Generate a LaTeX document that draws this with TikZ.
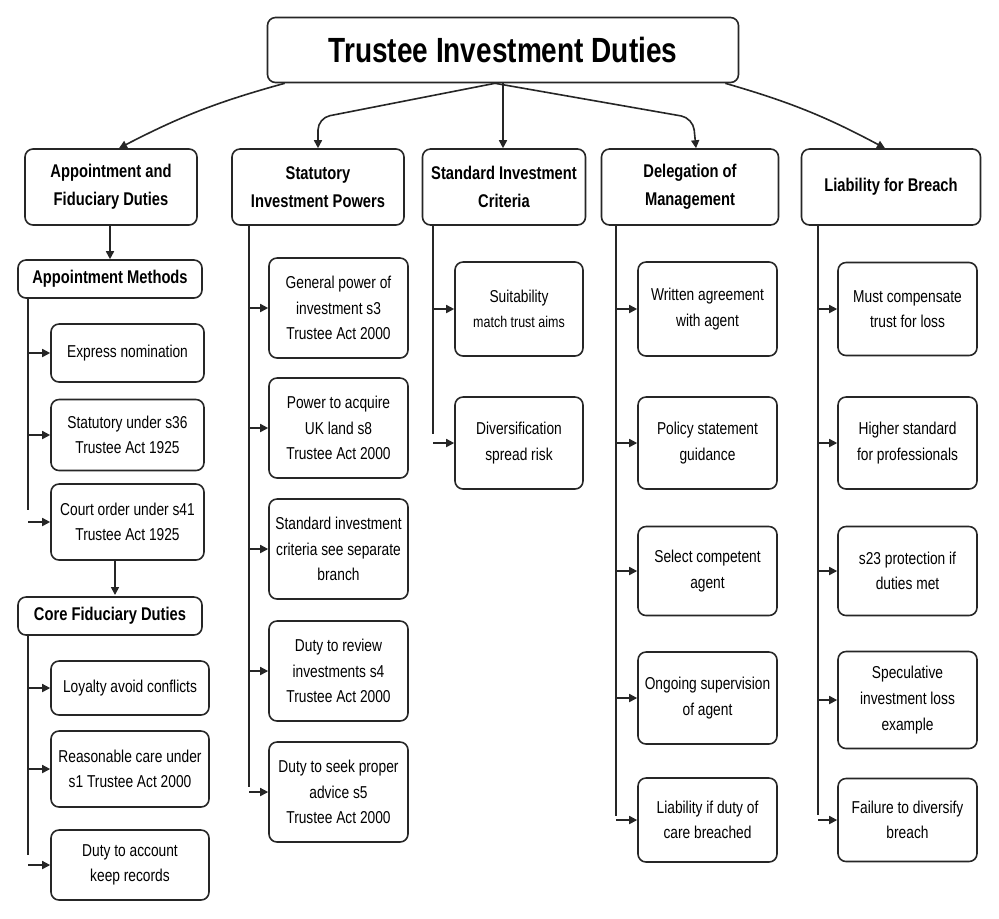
\documentclass[tikz,border=0pt]{standalone}
\usepackage{fontspec}
\setmainfont{Liberation Sans}[FakeStretch=0.8]
\usetikzlibrary{positioning,calc,arrows.meta}

\tikzset{
  box/.style={draw=black!85, line width=0.8pt, rounded corners=4pt, fill=white,
    align=center, inner sep=1pt, font=\fontsize{8.6}{12.8}\selectfont},
  head/.style={box, font=\fontsize{9.2}{14}\selectfont\bfseries},
  arr/.style={line width=0.8pt, draw=black!85, -{Triangle[length=4pt,width=4pt]}},
  spine/.style={line width=0.8pt, draw=black!85},
}

\begin{document}
\begin{tikzpicture}[x=0.5pt,y=-0.5pt]
    \useasboundingbox (0,0) rectangle (999,918);

    % title
    \node[box, minimum width=235.5pt, minimum height=32.5pt, font=\fontsize{17.5}{20}\selectfont\bfseries] (title) at (503,50) {Trustee Investment Duties};

    % column headers
    \node[head, minimum width=86pt, minimum height=38pt] (appt) at (111,187) {Appointment and\\Fiduciary Duties};
    \node[head, minimum width=86pt, minimum height=38pt] (stat) at (318,187) {Statutory\\Investment Powers};
    \node[head, minimum width=81.5pt, minimum height=38pt] (crit) at (504,187) {Standard Investment\\Criteria};
    \node[head, minimum width=88.5pt, minimum height=38pt] (dele) at (690,187) {Delegation of\\Management};
    \node[head, minimum width=89.5pt, minimum height=38pt] (liab) at (891,187) {Liability for Breach};

    \draw[arr] (title.south west)++(18,0) to[bend right=6] ([xshift=4]appt.north);
    \draw[arr, rounded corners=6pt] ($(title.south)+(-8,0)$) -- (318,118) -- (stat.north);
    \draw[arr] (title.south) -- (title.south |- crit.north);
    \draw[arr, rounded corners=6pt] ($(title.south)+(-8,0)$) -- (693,118) -- ([xshift=3]dele.north);
    \draw[arr] (title.south east)++(-14,0) to[bend left=6] ([xshift=-3]liab.north);

    % appointment and fiduciary duties
    \node[head, minimum width=92pt, minimum height=19pt] (meth) at (110,279) {Appointment Methods};
    \draw[arr] (appt.south -| meth.north) -- (meth.north);
    \foreach \name/\y/\h/\txt in {expr/353/29/Express nomination, s36/435/35.5/Statutory under s36\\Trustee Act 1925, s41/522/38/Court order under s41\\Trustee Act 1925}
      \node[box, minimum width=76.5pt, minimum height=\h pt] (\name) at (127.5,\y) {\txt};
    \coordinate (meth spine) at (28,298);
    \draw[spine] (meth spine) -- (28,510);
    \foreach \name in {expr,s36,s41}
      \draw[arr] (meth spine |- \name.west) -- (\name.west);

    \node[head, minimum width=92pt, minimum height=19pt] (core) at (110,616) {Core Fiduciary Duties};
    \draw[arr] (115,560) -- (115,595);
    \foreach \name/\y/\h/\txt in {loya/688/27/Loyalty avoid conflicts, care/769/38/Reasonable care under\\s1 Trustee Act 2000, acct/865/35/Duty to account\\keep records}
      \node[box, minimum width=79pt, minimum height=\h pt] (\name) at (130,\y) {\txt};
    \coordinate (core spine) at (28,635);
    \draw[spine] (core spine) -- (28,855);
    \foreach \name in {loya,care,acct}
      \draw[arr] (core spine |- \name.west) -- (\name.west);

    % statutory investment powers
    \foreach \name/\y/\txt in {gen/308/General power of\\investment s3\\Trustee Act 2000, land/428/Power to acquire\\UK land s8\\Trustee Act 2000, sic/549/Standard investment\\criteria see separate\\branch, rev/671/Duty to review\\investments s4\\Trustee Act 2000, adv/792/Duty to seek proper\\advice s5\\Trustee Act 2000}
      \node[box, minimum width=69.5pt, minimum height=50pt] (\name) at (338.5,\y) {\txt};
    \coordinate (stat spine) at (249,225);
    \draw[spine] (stat spine) -- (249,787);
    \foreach \name in {gen,land,sic,rev,adv}
      \draw[arr] (stat spine |- \name.west) -- (\name.west);

    % standard investment criteria
    \node[box, minimum width=64pt, minimum height=47pt] (suit) at (519,309) {Suitability\\{\fontsize{7.8}{12}\selectfont match trust aims}};
    \node[box, minimum width=64pt, minimum height=46pt] (divr) at (519,443) {Diversification\\spread risk};
    \coordinate (crit spine) at (433,225);
    \draw[spine] (crit spine) -- (433,434);
    \foreach \name in {suit,divr}
      \draw[arr] (crit spine |- \name.west) -- (\name.west);

    % delegation of management
    \foreach \name/\y/\h/\txt in {writ/309/47/Written agreement\\with agent, pol/443/46/Policy statement\\guidance, sel/571/44.5/Select competent\\agent, sup/698/46/Ongoing supervision\\of agent, dcare/820/42/Liability if duty of\\care breached}
      \node[box, minimum width=69.5pt, minimum height=\h pt] (\name) at (707.5,\y) {\txt};
    \coordinate (dele spine) at (616,225);
    \draw[spine] (dele spine) -- (616,816);
    \foreach \name in {writ,pol,sel,sup,dcare}
      \draw[arr] (dele spine |- \name.west) -- (\name.west);

    % liability for breach
    \foreach \name/\y/\h/\txt in {comp/309/46.5/Must compensate\\trust for loss, prof/443/46/Higher standard\\for professionals, prot/571/44.5/s23 protection if\\duties met, spec/700/48.5/Speculative\\investment loss\\example, fail/820/41.5/Failure to diversify\\breach}
      \node[box, minimum width=69.5pt, minimum height=\h pt] (\name) at (907.5,\y) {\txt};
    \coordinate (liab spine) at (818,225);
    \draw[spine] (liab spine) -- (818,815);
    \foreach \name in {comp,prof,prot,spec,fail}
      \draw[arr] (liab spine |- \name.west) -- (\name.west);
\end{tikzpicture}
\end{document}
